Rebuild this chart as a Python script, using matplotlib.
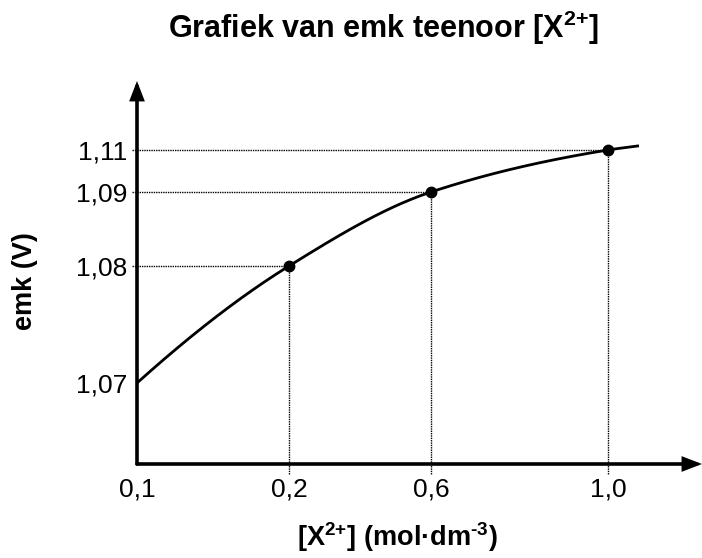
import numpy as np
import matplotlib
matplotlib.use("Agg")
import matplotlib.pyplot as plt

plt.rcParams['font.family'] = ['Liberation Sans', 'DejaVu Sans']
plt.rcParams['mathtext.fontset'] = 'custom'
plt.rcParams['mathtext.rm'] = 'Liberation Sans:bold'
plt.rcParams['mathtext.it'] = 'Liberation Sans:bold'
plt.rcParams['mathtext.bf'] = 'Liberation Sans:bold'

# ---- data ----
conc = [0.2, 0.6, 1.0]              # [X2+] (mol/dm3) measured points
emf = [1.08, 1.09, 1.11]            # emk (V)
curve_x = [0.1, 0.2, 0.6, 1.0, 1.07]
curve_y = [1.07, 1.08, 1.09, 1.11, 1.112]
x_ticks = [0.1, 0.2, 0.6, 1.0]
x_labels = ["0,1", "0,2", "0,6", "1,0"]
y_ticks = [1.07, 1.08, 1.09, 1.11]
y_labels = ["1,07", "1,08", "1,09", "1,11"]

# ---- schematic (non-uniform) axis scale: value -> position in px ----
X_POS = [0, 152, 294, 471]
Y_POS = [81, 198, 272, 314]
X_LEN, Y_LEN = 565, 383


def make_scale(vals, pos):
    vals = np.asarray(vals, float)
    pos = np.asarray(pos, float)
    s0 = (pos[1] - pos[0]) / (vals[1] - vals[0])
    s1 = (pos[-1] - pos[-2]) / (vals[-1] - vals[-2])

    def fwd(v):
        v = np.asarray(v, float)
        out = np.interp(v, vals, pos)
        out = np.where(v < vals[0], pos[0] + (v - vals[0]) * s0, out)
        out = np.where(v > vals[-1], pos[-1] + (v - vals[-1]) * s1, out)
        return out

    def inv(p):
        p = np.asarray(p, float)
        out = np.interp(p, pos, vals)
        out = np.where(p < pos[0], vals[0] + (p - pos[0]) / s0, out)
        out = np.where(p > pos[-1], vals[-1] + (p - pos[-1]) / s1, out)
        return out

    return fwd, inv


def pchip(xk, yk, xs):
    xk = np.asarray(xk, float); yk = np.asarray(yk, float)
    h = np.diff(xk); d = np.diff(yk) / h
    n = len(xk)
    m = np.zeros(n)
    for k in range(1, n - 1):
        if d[k - 1] * d[k] > 0:
            w1 = 2 * h[k] + h[k - 1]; w2 = h[k] + 2 * h[k - 1]
            m[k] = (w1 + w2) / (w1 / d[k - 1] + w2 / d[k])
    m[0] = ((2 * h[0] + h[1]) * d[0] - h[0] * d[1]) / (h[0] + h[1])
    if np.sign(m[0]) != np.sign(d[0]):
        m[0] = 0
    m[-1] = d[-1]
    idx = np.clip(np.searchsorted(xk, xs) - 1, 0, n - 2)
    t = (xs - xk[idx]) / h[idx]
    h00 = 2 * t**3 - 3 * t**2 + 1; h10 = t**3 - 2 * t**2 + t
    h01 = -2 * t**3 + 3 * t**2; h11 = t**3 - t**2
    return (h00 * yk[idx] + h10 * h[idx] * m[idx] + h01 * yk[idx + 1]
            + h11 * h[idx] * m[idx + 1])


fx, ix = make_scale(x_ticks, X_POS)
fy, iy = make_scale(y_ticks, Y_POS)

W, H = 702, 558
fig = plt.figure(figsize=(W / 100, H / 100), dpi=100)
ax = fig.add_axes([137 / W, (H - 464) / H, X_LEN / W, Y_LEN / H])
ax.set_xscale('function', functions=(fx, ix))
ax.set_yscale('function', functions=(fy, iy))
ax.set_xlim(float(ix(0)), float(ix(X_LEN)))
ax.set_ylim(float(iy(0)), float(iy(Y_LEN)))

for s in ax.spines.values():
    s.set_visible(False)

# axes with arrows
arrow = dict(arrowstyle='-|>,head_length=0.7,head_width=0.27', color='black',
             lw=2.6, shrinkA=0, shrinkB=0, mutation_scale=14,
             joinstyle='miter')
ax.annotate('', xy=(1, 0), xytext=(0, 0), xycoords='axes fraction',
            textcoords='axes fraction', arrowprops=arrow, annotation_clip=False)
ax.annotate('', xy=(0, 1), xytext=(0, 0), xycoords='axes fraction',
            textcoords='axes fraction', arrowprops=arrow, annotation_clip=False)

# dotted guide lines
x_out = float(ix(-5))
y_out = float(iy(-10))
for xv, yv in zip(conc, emf):
    ax.plot([x_out, xv], [yv, yv], color='black', lw=1.0, ls=(0, (1, 0.7)),
            clip_on=False, zorder=2)
    ax.plot([xv, xv], [y_out, yv], color='black', lw=1.0, ls=(0, (1, 0.7)),
            clip_on=False, zorder=2)

# smooth curve through the points (in display-position space)
px = fx(curve_x); py = fy(curve_y)
ps = np.linspace(px[0], px[-1], 400)
qs = pchip(px, py, ps)
ax.plot(ix(ps), iy(qs), color='black', lw=2.0, zorder=3,
        solid_capstyle='butt')
ax.plot(conc, emf, 'o', color='black', ms=7.5, zorder=4)

ax.set_xticks(x_ticks)
ax.set_xticklabels(x_labels, fontsize=19)
ax.set_yticks(y_ticks)
ax.set_yticklabels(y_labels, fontsize=19)
ax.tick_params(axis='x', length=0, pad=10)
ax.tick_params(axis='y', length=0, pad=7)
ax.minorticks_off()

fig.text(383 / W, 1 - 38 / H,
         r'Grafiek van emk teenoor [X$^{\text{2+}}$]',
         ha='center', va='baseline', fontsize=22, fontweight='bold')
fig.text(397 / W, 1 - 537 / H,
         r'[X$^{\text{2+}}$] (mol·dm$^{\text{-3}}$)',
         ha='center', va='center', fontsize=19.5, fontweight='bold')
fig.text(25 / W, 1 - 281 / H, 'emk (V)', rotation=90,
         ha='center', va='center', fontsize=19.5, fontweight='bold')

fig.savefig('out.png', dpi=100)
